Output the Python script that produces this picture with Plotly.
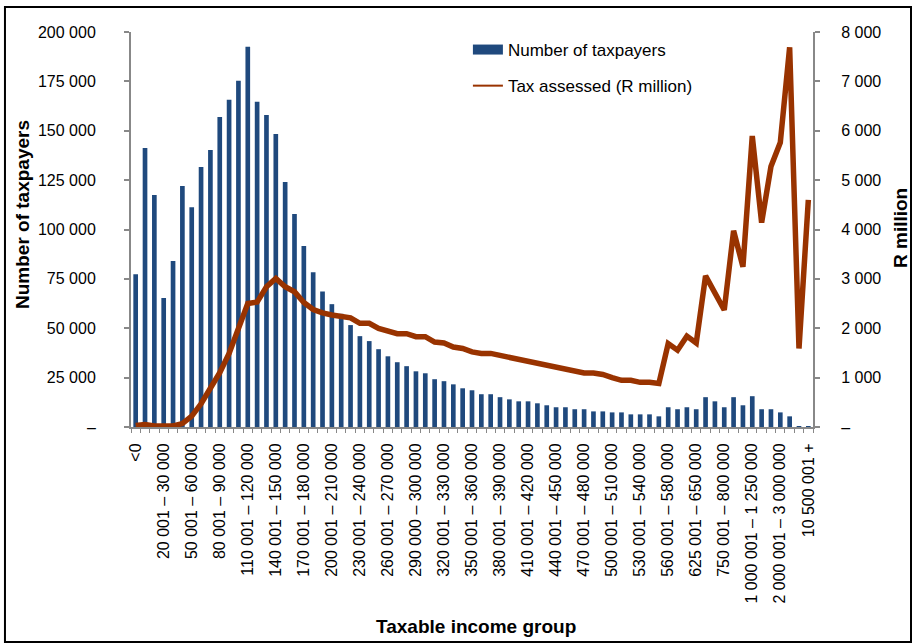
import plotly.graph_objects as go

# Taxable income groups (R)
groups = [
    "<0", "0 – 10 000", "10 001 – 20 000",
    "20 001 – 30 000", "30 001 – 40 000", "40 001 – 50 000",
    "50 001 – 60 000", "60 001 – 70 000", "70 001 – 80 000",
    "80 001 – 90 000", "90 001 – 100 000", "100 001 – 110 000",
    "110 001 – 120 000", "120 001 – 130 000", "130 001 – 140 000",
    "140 001 – 150 000", "150 001 – 160 000", "160 001 – 170 000",
    "170 001 – 180 000", "180 001 – 190 000", "190 001 – 200 000",
    "200 001 – 210 000", "210 001 – 220 000", "220 001 – 230 000",
    "230 001 – 240 000", "240 001 – 250 000", "250 001 – 260 000",
    "260 001 – 270 000", "270 001 – 280 000", "280 001 – 290 000",
    "290 000 – 300 000", "300 001 – 310 000", "310 001 – 320 000",
    "320 001 – 330 000", "330 001 – 340 000", "340 001 – 350 000",
    "350 001 – 360 000", "360 001 – 370 000", "370 001 – 380 000",
    "380 001 – 390 000", "390 001 – 400 000", "400 001 – 410 000",
    "410 001 – 420 000", "420 001 – 430 000", "430 001 – 440 000",
    "440 001 – 450 000", "450 001 – 460 000", "460 001 – 470 000",
    "470 001 – 480 000", "480 001 – 490 000", "490 001 – 500 000",
    "500 001 – 510 000", "510 001 – 520 000", "520 001 – 530 000",
    "530 001 – 540 000", "540 001 – 550 000", "550 001 – 560 000",
    "560 001 – 580 000", "580 001 – 600 000", "600 001 – 625 000",
    "625 001 – 650 000", "650 001 – 700 000", "700 001 – 750 000",
    "750 001 – 800 000", "800 001 – 900 000", "900 001 – 1 000 000",
    "1 000 001 – 1 250 000", "1 250 001 – 1 500 000", "1 500 001 – 2 000 000",
    "2 000 001 – 3 000 000", "3 000 001 – 5 000 000", "5 000 001 – 10 500 000",
    "10 500 001 +",
]

taxpayers = [
    77400, 141300, 117500, 65300, 84000, 122000, 111300, 131700, 140300,
    157000, 165700, 175300, 192500, 164700, 158000, 148400, 124100, 107900,
    91600, 78400, 68600, 62200, 57300, 51600, 46000, 43500, 39400, 35800,
    32800, 30800, 28200, 27200, 24200, 23200, 21600, 19600, 18600, 16600,
    16600, 15100, 14000, 13000, 13000, 12000, 11000, 10000, 10000, 9000,
    9000, 7900, 7900, 7400, 7400, 6400, 6400, 6400, 5400, 10000, 9000,
    10000, 9000, 15100, 13000, 10000, 15100, 11000, 15600, 9000, 9000,
    7400, 5400, 150, 80,
]

tax_assessed = [
    30, 50, 20, 20, 20, 70, 220, 470, 760, 1100, 1490, 2030, 2500, 2530,
    2840, 3010, 2840, 2740, 2520, 2380, 2310, 2270, 2245, 2210, 2100, 2100,
    1995, 1930, 1890, 1890, 1830, 1830, 1720, 1700, 1620, 1590, 1520, 1490,
    1490, 1450, 1410, 1370, 1330, 1290, 1245, 1205, 1165, 1125, 1095, 1095,
    1065, 1000, 945, 945, 905, 905, 880, 1690, 1555, 1840, 1700, 3060,
    2710, 2370, 3975, 3245, 5895, 4140, 5275, 5760, 7690, 1590, 4600,
]

left_ticks = [0, 25000, 50000, 75000, 100000, 125000, 150000, 175000, 200000]
left_labels = ["–", "25 000", "50 000", "75 000", "100 000", "125 000",
               "150 000", "175 000", "200 000"]
right_ticks = [0, 1000, 2000, 3000, 4000, 5000, 6000, 7000, 8000]
right_labels = ["–", "1 000", "2 000", "3 000", "4 000", "5 000",
                "6 000", "7 000", "8 000"]

positions = list(range(len(groups)))
AXIS_GREY = "#888888"
BAR_BLUE = "#1F497D"
LINE_RED = "#993300"

fig = go.Figure()
fig.add_trace(go.Bar(
    x=positions, y=taxpayers, name="Number of taxpayers",
    marker=dict(color=BAR_BLUE, line=dict(width=0)),
    customdata=groups, showlegend=False,
    hovertemplate="%{customdata}<br>Taxpayers: %{y:,}<extra></extra>",
))
fig.add_trace(go.Scatter(
    x=positions, y=tax_assessed, yaxis="y2", mode="lines",
    name="Tax assessed (R million)", showlegend=False,
    line=dict(color=LINE_RED, width=5.5),
    customdata=groups,
    hovertemplate="%{customdata}<br>Tax: R%{y:,} million<extra></extra>",
))
# legend keys styled like the original (wide bar swatch, thin line)
fig.add_trace(go.Scatter(
    x=[None], y=[None], mode="lines", name="Number of taxpayers",
    line=dict(color=BAR_BLUE, width=10), legendgroup="a", hoverinfo="skip",
))
fig.add_trace(go.Scatter(
    x=[None], y=[None], mode="lines", name="Tax assessed (R million)",
    line=dict(color=LINE_RED, width=2), legendgroup="b", hoverinfo="skip",
))

axis_common = dict(
    ticks="outside", ticklen=5, tickcolor=AXIS_GREY, tickwidth=2,
    showline=True, linecolor=AXIS_GREY, linewidth=2,
    showgrid=False, zeroline=False, automargin=False, tickmode="array",
)

fig.update_layout(
    width=915, height=644,
    margin=dict(l=131, r=102, t=32, b=217, autoexpand=False),
    paper_bgcolor="white", plot_bgcolor="white",
    font=dict(family="Liberation Sans, Arial, sans-serif", size=16, color="black"),
    bargap=0.5,
    showlegend=True,
    legend=dict(
        x=0.494, y=1.0, xanchor="left", yanchor="top",
        tracegroupgap=11, font=dict(size=17), bgcolor="rgba(0,0,0,0)",
    ),
    xaxis=dict(
        range=[-0.5, len(groups) - 0.5],
        tickmode="array", tickvals=positions[::3], ticktext=groups[::3],
        tickangle=-90, ticks="outside", ticklen=8, tickcolor="rgba(0,0,0,0)",
        showline=True, linecolor=AXIS_GREY, linewidth=2,
        showgrid=False, zeroline=False, automargin=False,
        minor=dict(tickmode="linear", tick0=-0.5, dtick=1, ticks="outside",
                   ticklen=4, tickcolor=AXIS_GREY, showgrid=False),
    ),
    yaxis=dict(range=[0, 200000], tickvals=left_ticks, ticktext=left_labels,
               ticklabelstandoff=25, **axis_common),
    yaxis2=dict(overlaying="y", side="right", range=[0, 8000],
                tickvals=right_ticks, ticktext=right_labels,
                ticklabelstandoff=18, **axis_common),
    annotations=[
        dict(text="<b>Number of taxpayers</b>", xref="paper", yref="paper",
             x=(22 - 131) / 682, y=(427 - 215) / 395, textangle=-90,
             showarrow=False, font=dict(size=19), xanchor="center", yanchor="middle"),
        dict(text="<b>R million</b>", xref="paper", yref="paper",
             x=(900 - 131) / 682, y=(427 - 228) / 395, textangle=-90,
             showarrow=False, font=dict(size=19), xanchor="center", yanchor="middle"),
        dict(text="<b>Taxable income group</b>", xref="paper", yref="paper",
             x=(476 - 131) / 682, y=(427 - 626) / 395,
             showarrow=False, font=dict(size=19), xanchor="center", yanchor="middle"),
    ],
    shapes=[dict(
        type="rect", xref="paper", yref="paper",
        x0=-0.1848, x1=1.1437, y0=-0.5443, y1=1.0633,
        line=dict(color="black", width=2), fillcolor="rgba(0,0,0,0)", layer="below",
    )],
)

# page body has a default 8px margin; drop it so the chart sits at the window origin
fig.write_html("out.html", config={"displayModeBar": False},
               post_script="document.body.style.margin = '0';")
